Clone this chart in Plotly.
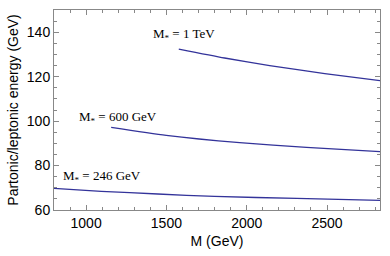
import plotly.graph_objects as go

m_1tev = [1577, 1862, 2143, 2486, 2830]
e_1tev = [132.4, 128.4, 125.0, 121.4, 118.2]
m_600 = [1156, 1499, 1956, 2372, 2830]
e_600 = [97.2, 93.6, 90.3, 88.2, 86.3]
m_246 = [800, 1094, 1446, 1800, 2311, 2830]
e_246 = [69.7, 68.4, 67.2, 66.1, 65.2, 64.3]

labels = ["M<sub>*</sub> = 1 TeV", "M<sub>*</sub> = 600 GeV", "M<sub>*</sub> = 246 GeV"]
label_x = [1407, 946, 844]
label_y = [138.8, 101.6, 74.9]

color = "#33339a"
fig = go.Figure()
for mx, ey in [(m_1tev, e_1tev), (m_600, e_600), (m_246, e_246)]:
    fig.add_trace(go.Scatter(x=mx, y=ey, mode="lines",
                             line=dict(color=color, width=1.3, shape="spline", smoothing=0.6),
                             showlegend=False, hoverinfo="skip"))

for t, x, y in zip(labels, label_x, label_y):
    fig.add_annotation(x=x, y=y, text=t, showarrow=False, xanchor="left", yanchor="middle",
                       font=dict(family="Liberation Serif, Times New Roman, serif", size=13, color="black"))

axis_common = dict(showline=True, linecolor="#888888", linewidth=1, mirror="ticks",
                   ticks="inside", tickcolor="#888888", ticklen=5, showgrid=False, zeroline=False,
                   tickfont=dict(family="Liberation Sans, Arial, sans-serif", size=14, color="black"),
                   title_font=dict(family="Liberation Sans, Arial, sans-serif", size=14, color="black"))

fig.update_xaxes(range=[800, 2830], tickvals=[1000, 1500, 2000, 2500],
                 minor=dict(ticks="inside", dtick=100, tick0=800, ticklen=3, tickcolor="#888888"),
                 title=dict(text="M (GeV)", standoff=6), **axis_common)
fig.update_yaxes(range=[60, 150], tickvals=[60, 80, 100, 120, 140],
                 minor=dict(ticks="inside", dtick=5, tick0=60, ticklen=3, tickcolor="#888888"),
                 title=dict(text="Partonic/leptonic energy (GeV)", standoff=4), **axis_common)

fig.update_layout(width=390, height=256, margin=dict(l=54, r=10, t=9, b=45),
                  plot_bgcolor="white", paper_bgcolor="white")
fig.write_html("out.html", config={"displayModeBar": False},
               post_script="document.body.style.margin='0';")
